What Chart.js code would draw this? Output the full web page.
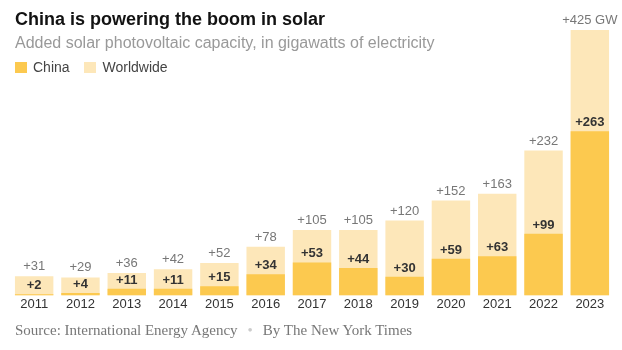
<!DOCTYPE html>
<html>
<head>
<meta charset="utf-8">
<script src="https://cdn.jsdelivr.net/npm/chart.js@4"></script>
<style>
  body { margin: 0; width: 622px; height: 350px; background: #fff; position: relative; overflow: hidden; font-family: "Liberation Sans", Arial, sans-serif; }
  #chart { position: absolute; left: 0; top: 0; }
  .title { position: absolute; left: 15px; top: 9px; font-size: 18px; font-weight: bold; color: #121212; white-space: nowrap; }
  .sub { position: absolute; left: 15px; top: 34px; font-size: 16px; color: #999; white-space: nowrap; }
  .legend { position: absolute; left: 15px; top: 59px; font-size: 14px; color: #444; white-space: nowrap; }
  .legend span.sw { display: inline-block; width: 12px; height: 11px; vertical-align: -1px; margin-right: 6px; }
  .legend span.item { margin-right: 11px; }
  .source { position: absolute; left: 15px; top: 322px; font-family: "Liberation Serif", Georgia, serif; font-size: 15px; color: #777; white-space: nowrap; }
  .source .dot { color: #ccc; margin: 0 10px; }
</style>
</head>
<body>
<canvas id="chart" width="622" height="350"></canvas>
<div class="title">China is powering the boom in solar</div>
<div class="sub">Added solar photovoltaic capacity, in gigawatts of electricity</div>
<div class="legend">
  <span class="item"><span class="sw" style="background:rgb(252,201,79)"></span>China</span>
  <span class="item"><span class="sw" style="background:rgb(253,231,185)"></span>Worldwide</span>
</div>
<div class="source">Source: International Energy Agency<span class="dot">•</span>By The New York Times</div>
<script>
const years = ['2011', '2012', '2013', '2014', '2015', '2016', '2017', '2018', '2019', '2020', '2021', '2022', '2023']
const china = [2, 4, 11, 11, 15, 34, 53, 44, 30, 59, 63, 99, 263]
const worldwide = [31, 29, 36, 42, 52, 78, 105, 105, 120, 152, 163, 232, 425]

const darkColor = 'rgb(252,201,79)'
const lightColor = 'rgb(253,231,185)'

// value labels over the bars and year labels under them
const barLabels = {
  id: 'barLabels',
  afterDatasetsDraw (chart) {
    const ctx = chart.ctx
    const chinaBars = chart.getDatasetMeta(0).data
    const worldBars = chart.getDatasetMeta(1).data
    const x = chart.scales.x
    ctx.save()
    ctx.textAlign = 'center'
    ctx.textBaseline = 'bottom'
    worldBars.forEach((bar, i) => {
      ctx.font = '13px "Liberation Sans", Arial, sans-serif'
      ctx.fillStyle = '#777'
      const txt = '+' + worldwide[i] + (i === worldwide.length - 1 ? ' GW' : '')
      ctx.fillText(txt, bar.x, bar.y - 3)
    })
    chinaBars.forEach((bar, i) => {
      ctx.font = 'bold 13px "Liberation Sans", Arial, sans-serif'
      ctx.fillStyle = '#333'
      ctx.fillText('+' + china[i], bar.x, bar.y - 2)
    })
    ctx.textBaseline = 'middle'
    ctx.font = '13px "Liberation Sans", Arial, sans-serif'
    ctx.fillStyle = '#333'
    years.forEach((y, i) => {
      ctx.fillText(y, x.getPixelForValue(i), chart.chartArea.bottom + 8.5)
    })
    ctx.restore()
  }
}

const chart = new Chart(document.querySelector('#chart').getContext('2d'), {
  type: 'bar',
  data: {
    labels: years,
    datasets: [
      { label: 'China', data: china, backgroundColor: darkColor },
      { label: 'Worldwide', data: worldwide, backgroundColor: lightColor }
    ]
  },
  options: {
    responsive: false,
    animation: false,
    devicePixelRatio: 1,
    events: [],
    layout: { padding: { left: 11, right: 9, top: 30, bottom: 54.5 } },
    datasets: { bar: { categoryPercentage: 1, barPercentage: 0.83 } },
    plugins: { legend: { display: false }, tooltip: { enabled: false } },
    scales: {
      x: { stacked: true, display: false },
      y: { stacked: false, display: false, min: 0, max: 425 }
    }
  },
  plugins: [barLabels]
})
</script>
</body>
</html>
